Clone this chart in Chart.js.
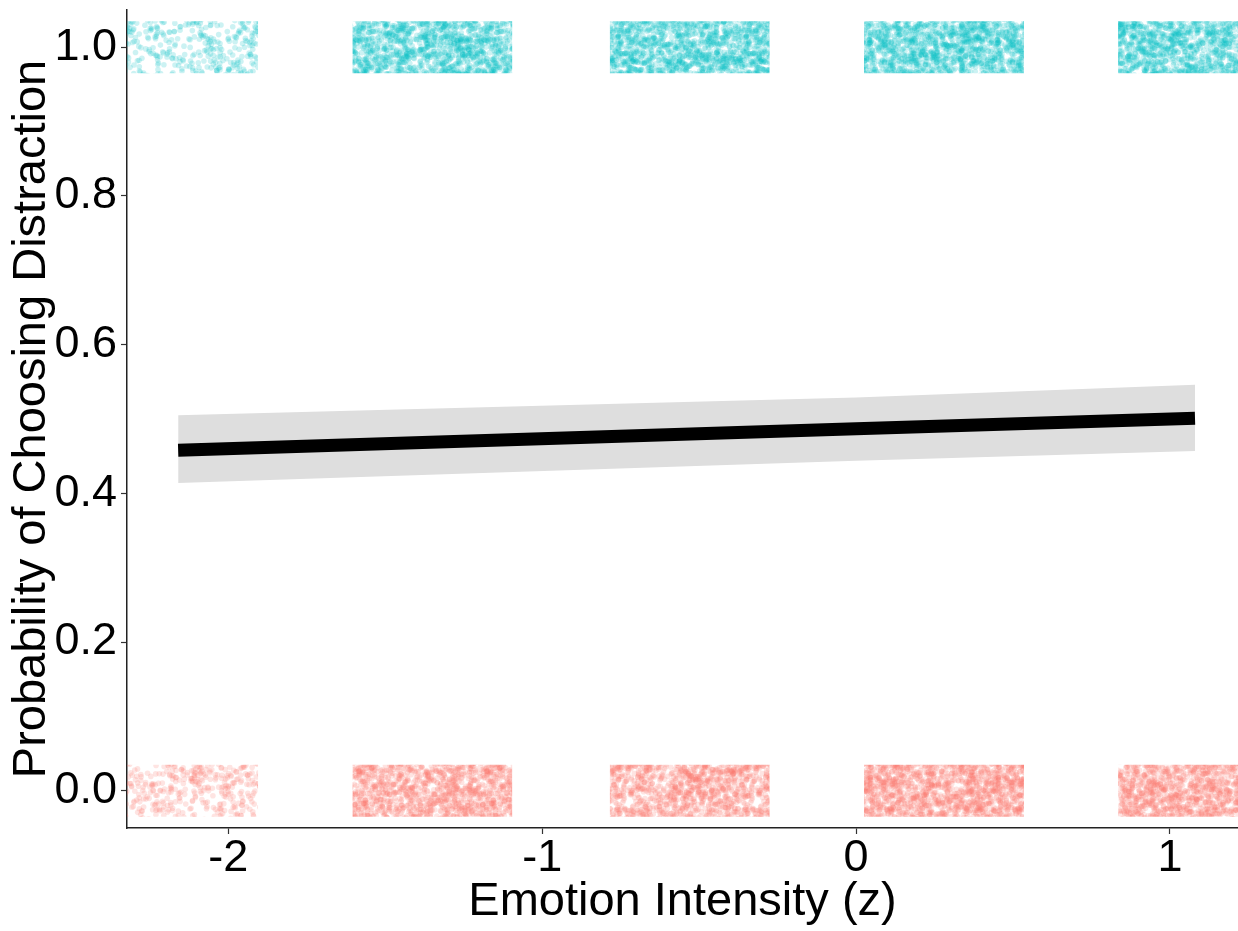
<!DOCTYPE html>
<html>
<head>
<meta charset="utf-8">
<title>Probability of Choosing Distraction</title>
<script src="https://cdn.jsdelivr.net/npm/chart.js@4/dist/chart.umd.min.js"></script>
<style>
  html, body { margin: 0; padding: 0; background: #fff; overflow: hidden; }
  canvas { display: block; }
</style>
</head>
<body>
<canvas id="chart" width="1238" height="931"></canvas>
<script>
// emotion intensity levels (z) where the raw choices sit
const levels = [-2.16, -1.35, -0.53, 0.28, 1.09];
const jitterX = 0.255;
// jitter band for choices: 1 = distraction, 0 = other
const bandOne = [0.965, 1.035];
const bandZero = [-0.035, 0.035];
// relative number of observations per level
const countOne = [0.32, 1, 1, 1.05, 1];
const countZero = [0.32, 0.95, 0.9, 1.1, 1];

// fitted logistic curve and 95% ribbon
const fitX = [-2.16, 0, 1.08];
const fitY = [0.458, 0.487, 0.501];
const fitLo = [0.414, 0.444, 0.457];
const fitHi = [0.505, 0.529, 0.546];

const xTicks = [-2, -1, 0, 1];
const yTicks = [0, 0.2, 0.4, 0.6, 0.8, 1.0];

const FONT = "'Liberation Sans', Arial, sans-serif";

// speckle texture (fill style only) that imitates overlapping translucent points
const hash = (n) => {
    const s = Math.sin(n * 12.9898) * 43758.5453;
    return s - Math.floor(s);
};

const dotPattern = (rgb, density, seed) => {
    const size = 128;
    const r = 2.8;
    const c = document.createElement('canvas');
    c.width = c.height = size;
    const g = c.getContext('2d');
    g.fillStyle = `rgba(${rgb},0.2)`;
    const n = Math.round(2200 * density);
    for (let i = 0; i < n; i++) {
        const px = hash(seed + i * 2.17) * size;
        const py = hash(seed + i * 3.71 + 0.5) * size;
        const xs = [px];
        const ys = [py];
        if (px < r) xs.push(px + size);
        if (px > size - r) xs.push(px - size);
        if (py < r) ys.push(py + size);
        if (py > size - r) ys.push(py - size);
        xs.forEach(x => ys.forEach(y => {
            g.beginPath();
            g.arc(x, y, r, 0, Math.PI * 2);
            g.fill();
        }));
    }
    return g.createPattern(c, 'repeat');
};

const toPts = (xs, ys) => xs.map((x, i) => ({ x, y: ys[i] }));

const blockSet = (lvl, band, density, rgb, seed) => ({
    type: 'line',
    data: [{ x: lvl - jitterX, y: band[1] }, { x: lvl + jitterX, y: band[1] }],
    borderWidth: 0,
    pointRadius: 0,
    fill: { value: band[0] },
    backgroundColor: dotPattern(rgb, density, seed)
});

const datasets = [
    {
        type: 'line',
        data: toPts(fitX, fitY),
        borderColor: '#000',
        borderWidth: 13,
        borderCapStyle: 'butt',
        pointRadius: 0,
        fill: false
    },
    {
        type: 'line',
        data: toPts(fitX, fitHi),
        borderWidth: 0,
        pointRadius: 0,
        fill: '+1',
        backgroundColor: '#dedede'
    },
    {
        type: 'line',
        data: toPts(fitX, fitLo),
        borderWidth: 0,
        pointRadius: 0,
        fill: false
    }
];

levels.forEach((lvl, i) => {
    datasets.push(blockSet(lvl, bandOne, countOne[i], '0,191,196', 11 + i * 7));
    datasets.push(blockSet(lvl, bandZero, countZero[i], '248,118,109', 53 + i * 5));
});

new Chart(document.getElementById('chart').getContext('2d'), {
    type: 'scatter',
    data: { datasets },
    options: {
        responsive: false,
        animation: false,
        devicePixelRatio: 1,
        layout: { padding: { top: 10, right: 0, bottom: 0, left: 0 } },
        plugins: {
            legend: { display: false },
            tooltip: { enabled: false }
        },
        scales: {
            x: {
                type: 'linear',
                min: -2.323,
                max: 1.217,
                afterBuildTicks: (s) => { s.ticks = xTicks.map(v => ({ value: v })); },
                afterFit: (s) => {
                    s.height = 103;
                    s.paddingLeft = 0;
                    s.paddingRight = 0;
                },
                border: { display: true, color: '#222', width: 1.5 },
                grid: { drawOnChartArea: false, drawTicks: true, tickLength: 6, tickColor: '#333', tickWidth: 1.2 },
                ticks: {
                    color: '#000',
                    padding: -2,
                    font: { family: FONT, size: 45 },
                    callback: (v) => String(v)
                },
                title: {
                    display: true,
                    text: 'Emotion Intensity (z)',
                    color: '#000',
                    font: { family: FONT, size: 47 },
                    padding: { top: 0, bottom: 1 }
                }
            },
            y: {
                type: 'linear',
                min: -0.05,
                max: 1.05,
                afterBuildTicks: (s) => { s.ticks = yTicks.map(v => ({ value: v })); },
                afterFit: (s) => {
                    s.width = 127;
                    s.paddingTop = 0;
                    s.paddingBottom = 0;
                },
                border: { display: true, color: '#222', width: 1.5 },
                grid: { drawOnChartArea: false, drawTicks: true, tickLength: 6, tickColor: '#333', tickWidth: 1.2 },
                ticks: {
                    color: '#000',
                    padding: 4,
                    font: { family: FONT, size: 45 },
                    callback: (v) => v.toFixed(1)
                },
                title: {
                    display: true,
                    text: 'Probability of Choosing Distraction',
                    color: '#000',
                    font: { family: FONT, size: 47 },
                    padding: { top: 4, bottom: 0 }
                }
            }
        }
    }
});
</script>
</body>
</html>
